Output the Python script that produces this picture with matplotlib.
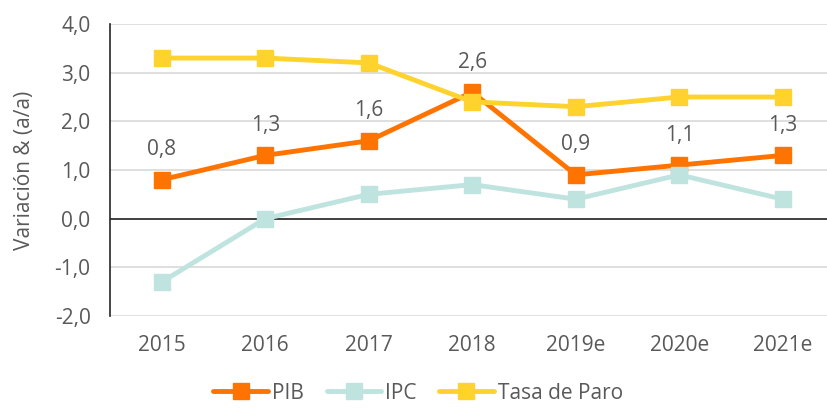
import numpy as np
import matplotlib
matplotlib.use("Agg")
import matplotlib.pyplot as plt
from matplotlib.ticker import FuncFormatter

plt.rcParams["font.family"] = ["Open Sans", "DejaVu Sans"]

years = ["2015", "2016", "2017", "2018", "2019e", "2020e", "2021e"]
pib = [0.8, 1.3, 1.6, 2.6, 0.9, 1.1, 1.3]
ipc = [-1.3, 0.0, 0.5, 0.7, 0.4, 0.9, 0.4]
paro = [3.3, 3.3, 3.2, 2.4, 2.3, 2.5, 2.5]

C_PIB, C_IPC, C_PARO = "#FF7300", "#BFE4DF", "#FFD22E"
C_TXT = "#595959"
FS = 15

fig = plt.figure(figsize=(8.28, 4.08), dpi=100)
ax = fig.add_axes([0.1329, 0.2255, 0.875, 0.7157])
x = np.arange(len(years))

kw = dict(lw=3.5, marker="s", ms=11, solid_capstyle="round")
ax.plot(x, pib, color=C_PIB, label="PIB", **kw)
ax.plot(x, ipc, color=C_IPC, label="IPC", **kw)
ax.plot(x, paro, color=C_PARO, label="Tasa de Paro", **kw)

for xi, v in zip(x, pib):
    ax.annotate(f"{v:.1f}".replace(".", ","), (xi, v), xytext=(0, 14),
                textcoords="offset points", ha="center", va="bottom",
                fontsize=FS, color=C_TXT)

ax.set_xlim(-0.5, 6.5)
ax.set_ylim(-2.0, 4.0)
ax.set_yticks(np.arange(-2, 4.1, 1))
ax.yaxis.set_major_formatter(FuncFormatter(lambda v, p: f"{v:.1f}".replace(".", ",")))
ax.set_xticks(x)
ax.set_xticklabels(years)
ax.tick_params(axis="x", length=0, labelsize=FS, labelcolor=C_TXT, pad=14)
ax.tick_params(axis="y", length=0, labelsize=FS, labelcolor=C_TXT, pad=14)
ax.grid(axis="y", color="#D9D9D9", lw=1.2)
ax.set_axisbelow(True)
ax.axhline(0, color="#262626", lw=1.2, zorder=1)
for s in ["top", "right", "bottom"]:
    ax.spines[s].set_visible(False)
ax.spines["left"].set_color("#262626")
ax.spines["left"].set_linewidth(1.2)
ax.set_ylabel("Variación & (a/a)", fontsize=FS, color=C_TXT, labelpad=14)

fig.legend(loc="lower center", bbox_to_anchor=(0.505, -0.035), ncol=3,
           frameon=False, fontsize=FS, labelcolor=C_TXT, handlelength=2.6,
           columnspacing=1.1, handletextpad=0.2)

fig.savefig("out.png", dpi=100, facecolor="white")
